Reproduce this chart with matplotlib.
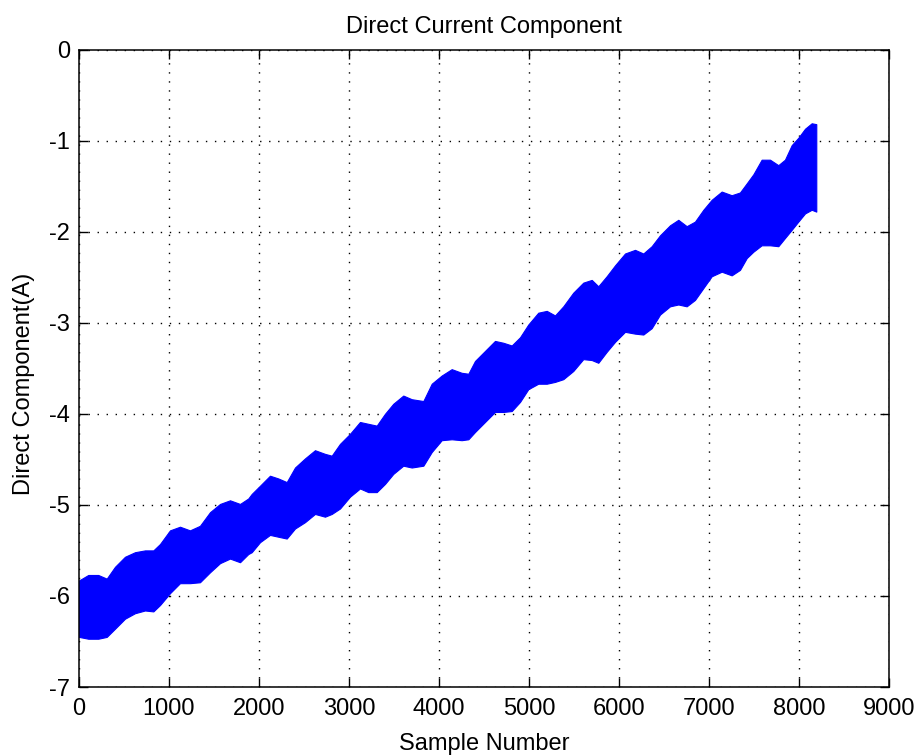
import matplotlib
matplotlib.use("Agg")
import matplotlib.pyplot as plt

# Envelope of the dense signal
sample_number = [
    0, 103, 214, 308, 400, 511, 622, 733, 826, 900,
    1011, 1122, 1233, 1344, 1456, 1567, 1678, 1789, 1881, 1919,
    2011, 2122, 2214, 2308, 2400, 2511, 2622, 2733, 2808, 2900,
    3011, 3122, 3214, 3308, 3400, 3492, 3603, 3697, 3826, 3919,
    4030, 4141, 4252, 4326, 4400, 4511, 4622, 4714, 4808, 4900,
    4992, 5103, 5197, 5289, 5381, 5492, 5603, 5697, 5770, 5863,
    5956, 6067, 6178, 6270, 6363, 6456, 6567, 6659, 6752, 6844,
    6937, 7030, 7141, 7252, 7344, 7419, 7493, 7585, 7678, 7770,
    7844, 7919, 7992, 8067, 8141, 8192,
]
upper_current = [
    -5.83, -5.77, -5.77, -5.81, -5.68, -5.57, -5.52, -5.50, -5.50, -5.43,
    -5.28, -5.24, -5.28, -5.23, -5.08, -4.99, -4.95, -4.99, -4.93, -4.88,
    -4.79, -4.68, -4.71, -4.75, -4.59, -4.49, -4.40, -4.44, -4.46, -4.33,
    -4.22, -4.09, -4.11, -4.13, -4.00, -3.89, -3.80, -3.84, -3.86, -3.67,
    -3.58, -3.51, -3.55, -3.56, -3.42, -3.31, -3.20, -3.22, -3.25, -3.16,
    -3.02, -2.89, -2.87, -2.92, -2.82, -2.67, -2.56, -2.53, -2.60, -2.49,
    -2.37, -2.24, -2.20, -2.24, -2.16, -2.04, -1.93, -1.87, -1.94, -1.89,
    -1.76, -1.65, -1.56, -1.60, -1.57, -1.47, -1.37, -1.21, -1.21, -1.27,
    -1.21, -1.05, -0.97, -0.87, -0.81, -0.82,
]
lower_current = [
    -6.45, -6.47, -6.47, -6.45, -6.36, -6.25, -6.19, -6.16, -6.17, -6.10,
    -5.97, -5.86, -5.86, -5.85, -5.74, -5.64, -5.59, -5.63, -5.54, -5.52,
    -5.41, -5.33, -5.35, -5.37, -5.26, -5.19, -5.10, -5.13, -5.10, -5.04,
    -4.91, -4.82, -4.86, -4.86, -4.77, -4.66, -4.57, -4.59, -4.57, -4.42,
    -4.29, -4.28, -4.29, -4.28, -4.20, -4.09, -3.98, -3.98, -3.97, -3.87,
    -3.73, -3.67, -3.67, -3.65, -3.62, -3.53, -3.40, -3.41, -3.44, -3.32,
    -3.21, -3.10, -3.12, -3.13, -3.06, -2.91, -2.82, -2.80, -2.82, -2.75,
    -2.62, -2.49, -2.44, -2.48, -2.42, -2.29, -2.22, -2.15, -2.15, -2.16,
    -2.07, -1.98, -1.89, -1.80, -1.76, -1.78,
]

x_ticks = list(range(0, 9001, 1000))
y_ticks = list(range(-7, 1))

plt.rcParams["font.family"] = ["Liberation Sans", "DejaVu Sans"]
plt.rcParams["axes.unicode_minus"] = False

fig = plt.figure(figsize=(9.16, 7.55), dpi=100)
ax = fig.add_axes([79 / 916, 68 / 755, 810 / 916, 637.5 / 755])

ax.fill_between(sample_number, lower_current, upper_current,
                color="#0000ff", linewidth=0.8, edgecolor="#0000ff")

ax.set_xlim(0, 9000)
ax.set_ylim(-7, 0)
ax.set_xticks(x_ticks)
ax.set_yticks(y_ticks)
ax.grid(True, color="black", linestyle=(0, (1, 5.5)), linewidth=1.0)
ax.set_axisbelow(True)

ax.tick_params(direction="in", length=6.5, width=1.0, top=True, right=True,
               labelsize=17, colors="black")
ax.tick_params(axis="x", pad=8)
ax.tick_params(axis="y", pad=6.5)
for spine in ax.spines.values():
    spine.set_linewidth(1.1)

ax.set_title("Direct Current Component", fontsize=17, pad=12)
ax.set_xlabel("Sample Number", fontsize=17, labelpad=9)
ax.set_ylabel("Direct Component(A)", fontsize=17)
ax.yaxis.set_label_coords(-0.054, 0.475)

fig.savefig("out.png", dpi=100)
plt.close(fig)
